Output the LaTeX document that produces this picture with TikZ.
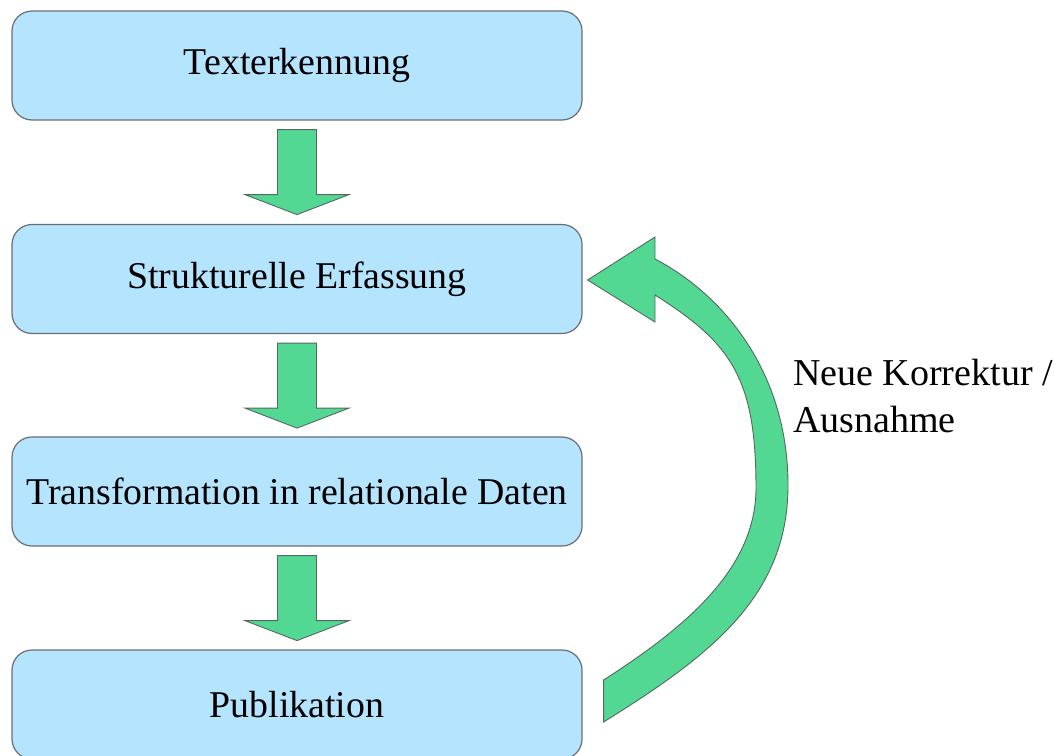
\documentclass[tikz,border=0pt]{standalone}
\usepackage{fontspec}
\setmainfont{Liberation Serif}
\usetikzlibrary{calc}
\definecolor{boxfill}{RGB}{180,228,254}
\definecolor{boxline}{RGB}{105,110,115}
\definecolor{arrfill}{RGB}{82,216,146}
\definecolor{arrline}{RGB}{85,105,95}
\tikzset{
  box/.style={draw=boxline, line width=1.2pt, fill=boxfill, rounded corners=20pt,
    minimum width=570pt, minimum height=109pt, inner sep=0pt,
    font=\fontsize{37.8}{44}\selectfont},
  fatarrow/.style={draw=arrline, line width=0.9pt, fill=arrfill, line join=miter},
  lbl/.style={align=left, inner sep=0pt, font=\fontsize{38}{47}\selectfont}
}
\begin{document}
\begin{tikzpicture}[x=1pt,y=-1pt]
\useasboundingbox (0,0) rectangle (1054,755);
\node[box] (b1) at (297,65.5) {Texterkennung};
\node[box] (b2) at (297,279) {Strukturelle Erfassung};
\node[box] (b3) at (297,491.5) {Transformation in relationale Daten};
\node[box] (b4) at (297,704.5) {Publikation};
\foreach \a in {b1,b2,b3}{
  \draw[fatarrow] ($(\a.south)+(-19.5,9)$) -- ++(39,0) -- ++(0,65) -- ++(32.5,0)
    -- ++(-52,20) -- ++(-52,-20) -- ++(32.5,0) -- cycle;
}
\coordinate (tip) at ($(b2.east)+(5,1)$);
\coordinate (tailo) at ($(b4.east)+(21,17.5)$);
\coordinate (taili) at ($(b4.east)+(21,-24.5)$);
\draw[fatarrow] (tailo) .. controls (713.5,653.75) and (788,595) .. (788,485)
  .. controls (788,375) and (726,296) .. (655,259)
  -- (655,237) -- (tip) -- (655,322) -- (655,295)
  .. controls (731,343) and (756,378) .. (756,488)
  .. controls (756,568) and (687.3,626.2) .. (taili) -- cycle;
\node[lbl, anchor=base west] (note) at (793,432) {Neue Korrektur /\\Ausnahme};
\end{tikzpicture}
\end{document}
